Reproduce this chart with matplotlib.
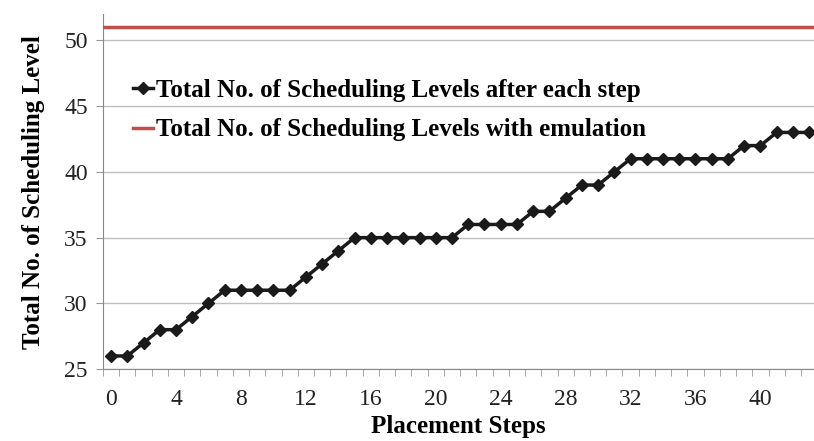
import matplotlib
matplotlib.use("Agg")
import matplotlib.pyplot as plt
import numpy as np
from matplotlib.ticker import FixedLocator

steps = list(range(44))
levels = [26, 26, 27, 28, 28, 29, 30, 31, 31, 31, 31, 31, 32, 33, 34, 35, 35, 35, 35, 35, 35, 35,
          36, 36, 36, 36, 37, 37, 38, 39, 39, 40, 41, 41, 41, 41, 41, 41, 41, 42, 42, 43, 43, 43]
emulation_level = 51
xtick_labels = list(range(0, 44, 4))
yticks = [25, 30, 35, 40, 45, 50]

plt.rcParams['font.family'] = ['Liberation Serif', 'DejaVu Serif']

fig = plt.figure(figsize=(8.14, 4.41), dpi=100)
ax = fig.add_axes([0.1265, 0.163, 0.8735, 0.805])

ax.plot(steps, levels, color='#1a1a1a', lw=2.5, marker='D', markersize=6,
        label='Total No. of Scheduling Levels after each step', zorder=3)
ax.plot([-0.5, 44], [emulation_level, emulation_level], color='#C0504D', lw=2.5,
        label='Total No. of Scheduling Levels with emulation', zorder=3)

ax.set_xlim(-0.5, 43.3)
ax.set_ylim(25, 52)
ax.set_yticks(yticks)
ax.set_xticks(xtick_labels)
ax.set_xticklabels([str(v) for v in xtick_labels])
ax.xaxis.set_minor_locator(FixedLocator(np.arange(-0.5, 44, 1)))
ax.tick_params(axis='x', which='major', length=0, labelsize=17, pad=14, colors='#222222')
ax.tick_params(axis='x', which='minor', length=5, color='#999999', direction='out')
ax.tick_params(axis='y', which='major', length=5, color='#999999', labelsize=17, colors='#222222', pad=6)

ax.grid(axis='y', color='#bfbfbf', lw=1, zorder=0)
for s in ['top', 'right']:
    ax.spines[s].set_visible(False)
for s in ['left', 'bottom']:
    ax.spines[s].set_color('#888888')

ax.set_xlabel('Placement Steps', fontsize=18, fontweight='bold', labelpad=4)
ax.set_ylabel('Total No. of Scheduling Level', fontsize=18, fontweight='bold', labelpad=14)

leg = ax.legend(loc='upper left', bbox_to_anchor=(0.01, 0.88), frameon=False,
                prop={'weight': 'bold', 'size': 18}, handlelength=0.8,
                handletextpad=0.15, labelspacing=0.65)

fig.savefig('out.png', dpi=100)
